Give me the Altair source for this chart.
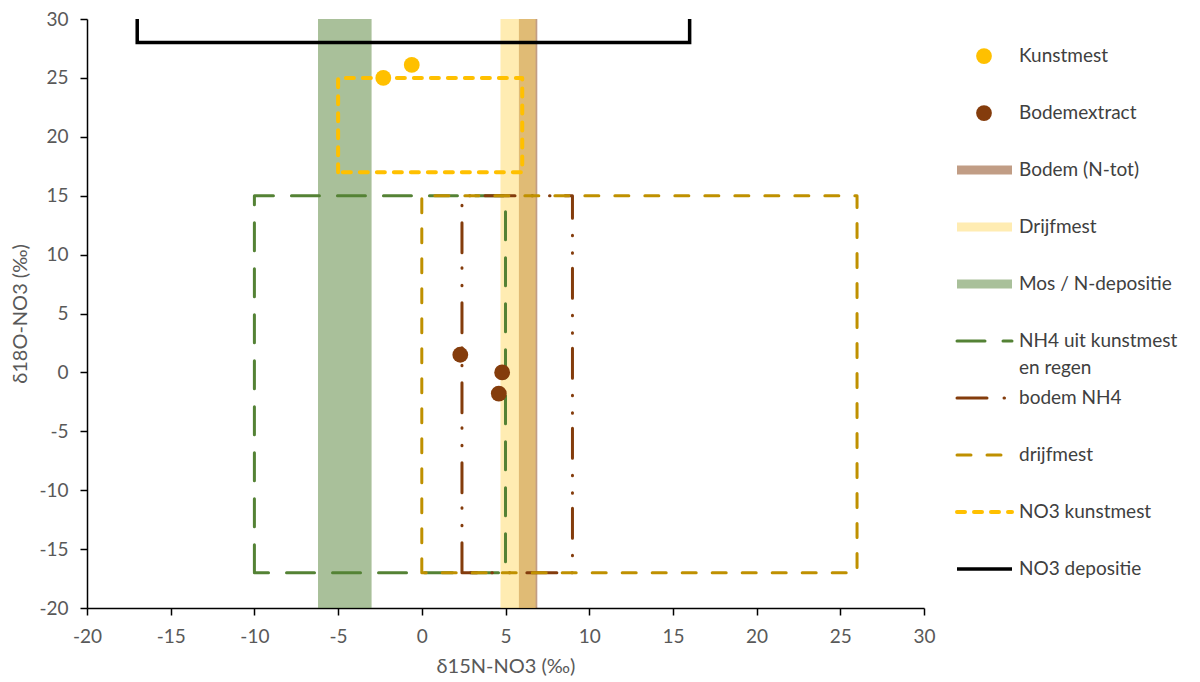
import altair as alt
import pandas as pd

# ---------------- data ----------------
kunstmest_x = [-2.3, -0.6]
kunstmest_y = [25.0, 26.1]
bodemextract_x = [2.3, 4.8, 4.6]
bodemextract_y = [1.5, 0.0, -1.8]

band_names = ["Bodem (N-tot)", "Drijfmest", "Mos / N-depositie"]
band_x_from = [5.8, 4.7, -6.2]
band_x_to = [6.9, 6.8, -3.0]
band_colors = ["#843C0C", "#FFD966", "#548235"]

box_names = ["NH4 uit kunstmest en regen", "bodem NH4", "drijfmest", "NO3 kunstmest"]
box_x_from = [-10, 2.4, 0, -5]
box_x_to = [5, 9, 26, 6]
box_y_from = [-17, -17, -17, 17]
box_y_to = [15, 15, 15, 25]

depositie_x = [-17, -17, 16, 16]
depositie_y = [33, 28, 28, 33]

x_domain = [-20, 30]
y_domain = [-20, 30]
x_ticks = list(range(-20, 31, 5))
y_ticks = list(range(-20, 31, 5))

legend_labels = [
    "Kunstmest", "Bodemextract", "Bodem (N-tot)", "Drijfmest", "Mos / N-depositie",
    "NH4 uit kunstmest\nen regen", "bodem NH4", "drijfmest", "NO3 kunstmest", "NO3 depositie",
]

FONT = "Lato"
GREY = "#595959"
POINT_SIZE = 250

# ---------------- tables ----------------
kunst_df = pd.DataFrame({"x": kunstmest_x, "y": kunstmest_y})
bodem_df = pd.DataFrame({"x": bodemextract_x, "y": bodemextract_y})

bands_df = pd.DataFrame({
    "name": band_names, "x1": band_x_from, "x2": band_x_to,
    "y1": [y_domain[0]] * 3, "y2": [y_domain[1]] * 3,
})

rows = []
for n, xa, xb, ya, yb in zip(box_names, box_x_from, box_x_to, box_y_from, box_y_to):
    for i, (px, py) in enumerate([(xa, ya), (xa, yb), (xb, yb), (xb, ya), (xa, ya)]):
        rows.append({"name": n, "i": i, "x": px, "y": py})
boxes_df = pd.DataFrame(rows)

dep_df = pd.DataFrame({"x": depositie_x, "y": depositie_y, "i": list(range(len(depositie_x)))})

xs = alt.Scale(domain=x_domain, nice=False, zero=False)
ys = alt.Scale(domain=y_domain, nice=False, zero=False)

axis_common = dict(
    grid=False, domainColor="black", domainWidth=1.5, tickColor="black", tickWidth=1.5,
    tickSize=7, labelFont=FONT, labelFontSize=19, labelColor=GREY, labelFlush=False,
    labelExpr="datum.value",
    titleFont=FONT, titleFontSize=20, titleColor=GREY, titleFontWeight="normal",
)
x_axis = alt.Axis(values=x_ticks, title="δ15N-NO3 (‰)", labelPadding=12, titlePadding=10, **axis_common)
y_axis = alt.Axis(values=y_ticks, title="δ18O-NO3 (‰)", labelPadding=12, titlePadding=8, **axis_common)

band_layers = []
for k, (n, c) in enumerate(zip(band_names, band_colors)):
    enc = dict(x=alt.X("x1:Q", scale=xs), x2="x2:Q", y=alt.Y("y1:Q", scale=ys), y2="y2:Q")
    if k == 0:
        enc["x"] = alt.X("x1:Q", scale=xs, axis=x_axis)
        enc["y"] = alt.Y("y1:Q", scale=ys, axis=y_axis)
    band_layers.append(
        alt.Chart(bands_df).transform_filter(alt.datum.name == n)
        .mark_rect(opacity=0.5, color=c).encode(**enc)
    )

styles = {
    "NH4 uit kunstmest en regen": dict(color="#548235", strokeWidth=3, strokeDash=[28, 18]),
    "bodem NH4": dict(color="#843C0C", strokeWidth=3, strokeDash=[30, 17, 0.5, 17, 0.5, 15]),
    "drijfmest": dict(color="#BF9000", strokeWidth=3, strokeDash=[14, 16]),
    "NO3 kunstmest": dict(color="#FFC000", strokeWidth=4, strokeDash=[8, 9]),
}

box_layers = []
for n in box_names:
    box_layers.append(
        alt.Chart(boxes_df).transform_filter(alt.datum.name == n)
        .mark_line(strokeCap="round", strokeJoin="round", **styles[n])
        .encode(x=alt.X("x:Q", scale=xs), y=alt.Y("y:Q", scale=ys), order="i:Q")
    )

dep = alt.Chart(dep_df).mark_line(color="black", strokeWidth=3.5, clip=True, strokeJoin="miter").encode(
    x=alt.X("x:Q", scale=xs), y=alt.Y("y:Q", scale=ys), order="i:Q"
)

pts_k = alt.Chart(kunst_df).mark_circle(size=POINT_SIZE, opacity=1, color="#FFC000").encode(
    x=alt.X("x:Q", scale=xs), y=alt.Y("y:Q", scale=ys))
pts_b = alt.Chart(bodem_df).mark_circle(size=POINT_SIZE, opacity=1, color="#843C0C").encode(
    x=alt.X("x:Q", scale=xs), y=alt.Y("y:Q", scale=ys))

no_view = alt.ViewBackground(stroke="transparent", strokeWidth=0, strokeOpacity=0)

main = alt.layer(*band_layers, *box_layers, dep, pts_k, pts_b).properties(
    width=837, height=589, view=no_view)

# ---------------- legend panel ----------------
leg_df = pd.DataFrame({"idx": list(range(len(legend_labels))), "label": legend_labels})
leg_df["line1"] = leg_df["label"].str.split("\n").str[0]
leg_df["line2"] = leg_df["label"].str.split("\n").str[1].fillna("")

ly = alt.Scale(domain=[-0.65, 9.683], nice=False, zero=False, reverse=True)
LX0, LX1, LXC, LXT = 13, 68, 40, 75
LY = alt.Y("idx:Q", scale=ly, axis=None)

leg_base = alt.Chart(leg_df)
leg_layers = []
for k, c in enumerate(["#FFC000", "#843C0C"]):
    leg_layers.append(
        leg_base.transform_filter(alt.datum.idx == k)
        .mark_circle(size=POINT_SIZE, opacity=1, color=c)
        .encode(x=alt.value(LXC), y=LY)
    )
for k, c in enumerate(band_colors):
    leg_layers.append(
        leg_base.transform_filter(alt.datum.idx == 2 + k)
        .mark_rule(strokeWidth=9, opacity=0.5, color=c)
        .encode(x=alt.value(LX0), x2=alt.value(LX1), y=LY)
    )
for k, n in enumerate(box_names):
    leg_layers.append(
        leg_base.transform_filter(alt.datum.idx == 5 + k)
        .mark_rule(strokeCap="round", **styles[n])
        .encode(x=alt.value(LX0), x2=alt.value(LX1), y=LY)
    )
leg_layers.append(
    leg_base.transform_filter(alt.datum.idx == 9).mark_rule(color="black", strokeWidth=3.5)
    .encode(x=alt.value(LX0), x2=alt.value(LX1), y=LY)
)
leg_layers.append(
    leg_base.mark_text(align="left", baseline="middle", font=FONT, fontSize=19, color="#404040")
    .encode(x=alt.value(LXT), y=LY, text="line1:N")
)
leg_layers.append(
    leg_base.mark_text(align="left", baseline="middle", font=FONT, fontSize=19, color="#404040", dy=27)
    .encode(x=alt.value(LXT), y=LY, text="line2:N")
)

legend_panel = alt.layer(*leg_layers).properties(width=225, height=589, view=no_view)

chart = alt.hconcat(main, legend_panel, spacing=8).resolve_scale(y="independent").properties(
    padding={"left": 2, "top": 2, "right": 0, "bottom": 0}
).configure_view(strokeWidth=0, stroke="transparent").configure(background="white")

chart.save("out.html", embed_options={"renderer": "svg", "actions": False})
